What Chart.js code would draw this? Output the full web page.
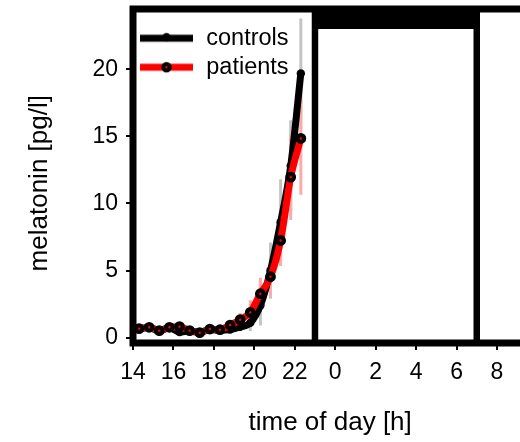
<!DOCTYPE html>
<html><head><meta charset="utf-8">
<script src="https://cdn.jsdelivr.net/npm/chart.js@4"></script>
<style>
html,body{margin:0;padding:0;overflow:hidden;background:#fff;width:520px;height:442px}
#wrap{width:540px;height:442px;position:relative}
</style>
</head><body><div id="wrap"><canvas id="c" width="540" height="442"></canvas></div>
<script>
// ---- data ----
const times       = [14.3,14.8,15.3,15.8,16.3,16.8,17.3,17.8,18.3,18.8,19.3,19.8,20.3,20.8,21.3,21.8,22.3];
const controls    = [0.65,0.75,0.5,0.75,0.42,0.5,0.4,0.6,0.55,0.6,0.8,1.1,2.4,5.0,8.6,12.8,19.7];
const controlsErr = [0.15,0.15,0.15,0.15,0.15,0.15,0.15,0.15,0.15,0.2,0.3,0.6,1.5,2.1,3.2,3.4,4.1];
const patients    = [0.67,0.77,0.52,0.77,0.82,0.52,0.37,0.64,0.59,0.94,1.34,1.88,3.27,4.54,7.24,11.97,14.85];
const patientsErr = [0.2,0.2,0.2,0.2,0.2,0.2,0.2,0.2,0.2,0.3,0.5,0.9,1.2,1.5,1.9,3.2,4.2];
const seriesNames = ['controls','patients'];
const xTicks = [14,16,18,20,22,24,26,28,30,32];
const yTicks = [0,5,10,15,20];
const nightStart = 23, nightEnd = 31;   // lights off 23:00 - 07:00
const nightBarBottom = 23;

const FONT = "'Liberation Sans', Arial, Helvetica, sans-serif";
const X_MIN = 14, X_MAX = 33.5, Y_MIN = -0.4, Y_MAX = 24.5;

function pts(xs, ys){ return xs.map((x,i)=>({x, y: ys[i]})); }
function errSegments(xs, ys, es){
  const out = [];
  xs.forEach((x,i)=>{ out.push({x, y: ys[i]-es[i]}, {x, y: ys[i]+es[i]}, {x, y: null}); });
  return out;
}
function legendIcon(lineColor, kind){
  const c = document.createElement('canvas'); c.width = 53; c.height = 16;
  const g = c.getContext('2d');
  g.strokeStyle = lineColor; g.lineWidth = 7;
  g.beginPath(); g.moveTo(0,8); g.lineTo(53,8); g.stroke();
  g.beginPath();
  if (kind === 'controls'){ g.arc(26.5,7,4.2,0,Math.PI*2); g.fillStyle='#000'; g.fill(); }
  else { g.arc(26.5,8,3.2,0,Math.PI*2); g.fillStyle='#ff0000'; g.fill(); g.lineWidth=4; g.strokeStyle='#000'; g.stroke(); }
  return c;
}
const legendIcons = [legendIcon('#000','controls'), legendIcon('#ff0000','patients')];

const framePlugin = {
  id: 'frame',
  afterDatasetsDraw(chart){
    const {ctx, chartArea:a} = chart;
    ctx.save(); ctx.strokeStyle = '#000'; ctx.lineWidth = 7;
    ctx.strokeRect(a.left, a.top, a.right - a.left, a.bottom - a.top);
    ctx.restore();
  }
};
function noPad(s){ s.paddingTop = 0; s.paddingBottom = 0; s.paddingLeft = 0; s.paddingRight = 0; }

new Chart(document.getElementById('c'), {
  type: 'line',
  data: {
    datasets: [
      { label: seriesNames[0], data: pts(times, controls), order: 2,
        borderColor: '#000', borderWidth: 7, cubicInterpolationMode: 'monotone',
        pointRadius: 4.2, pointBackgroundColor: '#000', pointBorderWidth: 0, fill: false },
      { label: seriesNames[1], data: pts(times, patients), order: 1,
        borderColor: '#ff0000', borderWidth: 7, cubicInterpolationMode: 'monotone',
        pointRadius: 3.3, pointBackgroundColor: '#ff0000', pointBorderColor: '#000', pointBorderWidth: 4.2, fill: false },
      { label: 'patients err', data: errSegments(times, patients, patientsErr), order: 3,
        borderColor: '#ffaaaa', borderWidth: 3, pointRadius: 0, spanGaps: false, fill: false },
      { label: 'controls err', data: errSegments(times, controls, controlsErr), order: 4,
        borderColor: '#c4c4c4', borderWidth: 3, pointRadius: 0, spanGaps: false, fill: false },
      { label: 'night bar', data: [{x: nightStart, y: nightBarBottom}, {x: nightEnd, y: nightBarBottom}], order: 5,
        borderWidth: 0, borderColor: '#000', backgroundColor: '#000', fill: 'end', pointRadius: 0 },
      { label: 'night edges', data: [{x: nightStart, y: Y_MIN}, {x: nightStart, y: Y_MAX}, {x: nightStart, y: null},
                                     {x: nightEnd, y: Y_MAX}, {x: nightEnd, y: Y_MIN}], order: 6,
        borderWidth: 6.5, borderColor: '#000', pointRadius: 0, spanGaps: false, fill: false }
    ]
  },
  options: {
    responsive: false, animation: false, devicePixelRatio: 1,
    layout: { padding: { left: 0, top: 9, right: 12.7, bottom: 0 } },
    plugins: {
      tooltip: { enabled: false },
      legend: {
        position: 'chartArea', align: 'start',
        title: { display: true, text: ' ', font: { family: FONT, size: 10, lineHeight: 1 }, padding: { top: 11, bottom: 0 } },
        labels: {
          usePointStyle: true, pointStyleWidth: 56, padding: 5.5,
          font: { family: FONT, size: 23.5 }, color: '#000',
          generateLabels: () => seriesNames.map((name, i) => ({
            text: name, pointStyle: legendIcons[i], datasetIndex: i, fontColor: '#000',
            hidden: false, lineWidth: 0, strokeStyle: 'rgba(0,0,0,0)', fillStyle: 'rgba(0,0,0,0)'
          }))
        }
      }
    },
    scales: {
      x: {
        type: 'linear', min: X_MIN, max: X_MAX,
        afterBuildTicks: s => { s.ticks = xTicks.map(v => ({value: v})); },
        afterFit: s => { s.height = 99; noPad(s); },
        ticks: { callback: v => String(v % 24), font: { family: FONT, size: 23 }, color: '#000', padding: 9, maxRotation: 0, autoSkip: false },
        grid: { drawOnChartArea: false, drawTicks: true, tickLength: 7, color: '#000', lineWidth: 2 },
        border: { display: false },
        title: { display: true, text: 'time of day [h]', font: { family: FONT, size: 26 }, color: '#000', padding: { top: 0, bottom: 4 } }
      },
      y: {
        type: 'linear', min: Y_MIN, max: Y_MAX,
        afterBuildTicks: s => { s.ticks = yTicks.map(v => ({value: v})); },
        afterFit: s => { s.width = 133; noPad(s); },
        ticks: { font: { family: FONT, size: 23 }, color: '#000', padding: 8 },
        grid: { drawOnChartArea: false, drawTicks: true, tickLength: 7, color: '#000', lineWidth: 2 },
        border: { display: false },
        title: { display: true, text: 'melatonin [pg/l]  ', font: { family: FONT, size: 26 }, color: '#000', padding: { top: 24, bottom: 0 } }
      }
    }
  },
  plugins: [framePlugin]
});
</script>
</body></html>
